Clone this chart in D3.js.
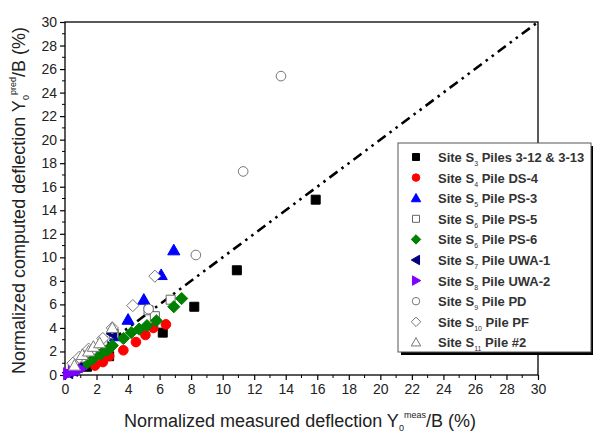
<!DOCTYPE html>
<html>
<head>
<meta charset="utf-8">
<script src="https://cdn.jsdelivr.net/npm/d3@7"></script>
<style>
  body { margin: 0; background: #fff; }
  svg { font-family: "Liberation Sans", Arial, sans-serif; }
</style>
</head>
<body>
<svg id="chart" width="593" height="437"></svg>
<script>
// ticks
const xTicks = [0, 2, 4, 6, 8, 10, 12, 14, 16, 18, 20, 22, 24, 26, 28, 30];
const yTicks = [0, 2, 4, 6, 8, 10, 12, 14, 16, 18, 20, 22, 24, 26, 28, 30];

// series [measured, predicted] in %
const s3Piles = [[1.4, 0.7], [2.8, 1.6], [6.2, 3.6], [8.2, 5.8], [10.9, 8.9], [15.9, 14.9]];
const s4DS4 = [[1.9, 0.8], [2.4, 1.1], [2.8, 1.6], [3.7, 2.1], [4.5, 2.8], [5.1, 3.4], [5.6, 4.0], [6.4, 4.3]];
const s5PS3 = [[3.2, 3.3], [4.0, 4.7], [5.0, 6.4], [6.1, 8.5], [6.9, 10.6]];
const s6PS5 = [[1.3, 1.6], [2.4, 2.9], [3.1, 3.5], [5.3, 5.5], [5.7, 5.0], [6.7, 6.4]];
const s6PS6 = [[0.9, 0.6], [1.4, 1.0], [1.8, 1.4], [2.3, 1.8], [2.7, 2.1], [3.0, 2.5], [3.7, 3.1],
               [4.2, 3.6], [4.7, 3.9], [5.2, 4.2], [5.8, 4.6], [6.9, 5.8], [7.4, 6.5]];
const s7UWA1 = [[0.2, 0.2], [0.5, 0.4], [0.8, 0.7], [3.0, 3.5]];
const s8UWA2 = [[0.2, 0.1], [0.5, 0.3], [0.8, 0.4], [1.0, 0.5]];
const s9PD = [[1.1, 1.5], [1.7, 2.1], [5.3, 5.6], [8.3, 10.2], [11.3, 17.3], [13.7, 25.4]];
const s10PF = [[0.5, 1.0], [0.9, 1.5], [1.5, 2.2], [2.4, 3.1], [3.0, 4.0], [4.3, 5.9], [5.7, 8.4]];
const s11P2 = [[0.6, 0.8], [1.1, 1.7], [1.5, 2.0], [1.8, 2.4], [2.2, 2.7], [3.0, 4.0]];

const series = [
  { sub: "3", name: " Piles 3-12 & 3-13", data: s3Piles, shape: "square", fill: "#000", stroke: "#000" },
  { sub: "4", name: " Pile DS-4", data: s4DS4, shape: "circle", fill: "#f00", stroke: "#f00" },
  { sub: "5", name: "  Pile PS-3", data: s5PS3, shape: "triUp", fill: "#00f", stroke: "#00f" },
  { sub: "6", name: "  Pile PS-5", data: s6PS5, shape: "square", fill: "#fff", stroke: "#666" },
  { sub: "6", name: "  Pile PS-6", data: s6PS6, shape: "diamond", fill: "#008000", stroke: "#008000" },
  { sub: "7", name: "  Pile UWA-1", data: s7UWA1, shape: "triLeft", fill: "#000080", stroke: "#000080" },
  { sub: "8", name: "  Pile UWA-2", data: s8UWA2, shape: "triRight", fill: "#8000ff", stroke: "#8000ff" },
  { sub: "9", name: "  Pile PD", data: s9PD, shape: "circle", fill: "#fff", stroke: "#777" },
  { sub: "10", name: " Pile PF", data: s10PF, shape: "diamond", fill: "#fff", stroke: "#777" },
  { sub: "11", name: " Pile #2", data: s11P2, shape: "triUp", fill: "#fff", stroke: "#777" }
];

const svg = d3.select("#chart");
const pLeft = 65, pRight = 538, pTop = 22, pBottom = 375;

const x = d3.scaleLinear().domain([0, 30]).range([pLeft, pRight]);
const y = d3.scaleLinear().domain([0, 30]).range([pBottom, pTop]);

// marker path generator
function shapePath(shape, s) {
  switch (shape) {
    case "square": return `M${-s},${-s}H${s}V${s}H${-s}Z`;
    case "circle": return d3.symbol(d3.symbolCircle, Math.PI * s * s * 1.15)();
    case "diamond": { const d = s * 1.35; return `M0,${-d}L${d},0L0,${d}L${-d},0Z`; }
    case "triUp": { const d = s * 1.35; return `M0,${-d}L${d},${d * 0.75}L${-d},${d * 0.75}Z`; }
    case "triLeft": { const d = s * 1.35; return `M${-d},0L${d * 0.75},${-d}L${d * 0.75},${d}Z`; }
    case "triRight": { const d = s * 1.35; return `M${d},0L${-d * 0.75},${-d}L${-d * 0.75},${d}Z`; }
  }
}

// axes
const axisB = d3.axisBottom(x).tickValues(xTicks).tickSize(5).tickPadding(4).tickFormat(d3.format("d"));
const axisL = d3.axisLeft(y).tickValues(yTicks).tickSize(5).tickPadding(3).tickFormat(d3.format("d"));

const gx = svg.append("g").attr("transform", `translate(0,${pBottom})`).call(axisB);
const gy = svg.append("g").attr("transform", `translate(${pLeft},0)`).call(axisL);
[gx, gy].forEach(g => {
  g.select(".domain").remove();
  g.selectAll("line").attr("stroke", "#000").attr("stroke-width", 1.2);
  g.selectAll("text").attr("font-size", 14).attr("fill", "#222");
});

// minor ticks
const minor = d3.range(1, 30, 2);
svg.append("g").selectAll("line").data(minor).join("line")
  .attr("x1", d => x(d)).attr("x2", d => x(d))
  .attr("y1", pBottom).attr("y2", pBottom + 3)
  .attr("stroke", "#000").attr("stroke-width", 1);
svg.append("g").selectAll("line").data(minor).join("line")
  .attr("y1", d => y(d)).attr("y2", d => y(d))
  .attr("x1", pLeft).attr("x2", pLeft - 3)
  .attr("stroke", "#000").attr("stroke-width", 1);

// frame
svg.append("rect")
  .attr("x", pLeft).attr("y", pTop)
  .attr("width", pRight - pLeft).attr("height", pBottom - pTop)
  .attr("fill", "none").attr("stroke", "#000").attr("stroke-width", 1.3);

// 1:1 line
svg.append("line")
  .attr("x1", x(0)).attr("y1", y(0))
  .attr("x2", x(30)).attr("y2", y(30))
  .attr("stroke", "#000").attr("stroke-width", 2.6)
  .attr("stroke-dasharray", "10,5,2.5,5,2.5,5");

// points
series.forEach(s => {
  svg.append("g").selectAll("path").data(s.data).join("path")
    .attr("d", shapePath(s.shape, 4.5))
    .attr("transform", d => `translate(${x(d[0])},${y(d[1])})`)
    .attr("fill", s.fill)
    .attr("stroke", s.stroke)
    .attr("stroke-width", 1);
});

// axis titles
const xt = svg.append("text")
  .attr("x", 300).attr("y", 427)
  .attr("text-anchor", "middle")
  .attr("font-size", 18).attr("fill", "#222");
xt.append("tspan").text("Normalized measured deflection Y");
xt.append("tspan").attr("font-size", 9).attr("dy", 4).text("0");
xt.append("tspan").attr("font-size", 9).attr("dy", -13).text("meas");
xt.append("tspan").attr("dy", 9).text("/B (%)");

const yt = svg.append("text")
  .attr("transform", `translate(25,${(pTop + pBottom) / 2 + 2}) rotate(-90)`)
  .attr("text-anchor", "middle")
  .attr("font-size", 18).attr("fill", "#222");
yt.append("tspan").text("Normalized computed deflection Y");
yt.append("tspan").attr("font-size", 9).attr("dy", 4).text("0");
yt.append("tspan").attr("font-size", 9).attr("dy", -13).text("pred");
yt.append("tspan").attr("dy", 9).text("/B (%)");

// legend
const lg = svg.append("g");
const lx = 398, ly = 143, lw = 193, lh = 209;
lg.append("rect").attr("x", lx + 3).attr("y", ly + 3).attr("width", lw).attr("height", lh).attr("fill", "#000");
lg.append("rect").attr("x", lx).attr("y", ly).attr("width", lw).attr("height", lh)
  .attr("fill", "#fff").attr("stroke", "#555").attr("stroke-width", 1);

series.forEach((s, i) => {
  const cy = ly + 14 + i * 20.6;
  lg.append("path")
    .attr("d", shapePath(s.shape, 3.5))
    .attr("transform", `translate(${lx + 18},${cy})`)
    .attr("fill", s.fill).attr("stroke", s.stroke).attr("stroke-width", 1);
  const t = lg.append("text")
    .attr("x", lx + 40).attr("y", cy + 5)
    .attr("font-size", 13).attr("font-weight", "bold").attr("fill", "#333");
  t.append("tspan").text("Site S");
  t.append("tspan").attr("font-size", 7).attr("font-weight", "normal").attr("dy", 4).text(s.sub);
  t.append("tspan").attr("dy", -4).text(s.name);
});
</script>
</body>
</html>
